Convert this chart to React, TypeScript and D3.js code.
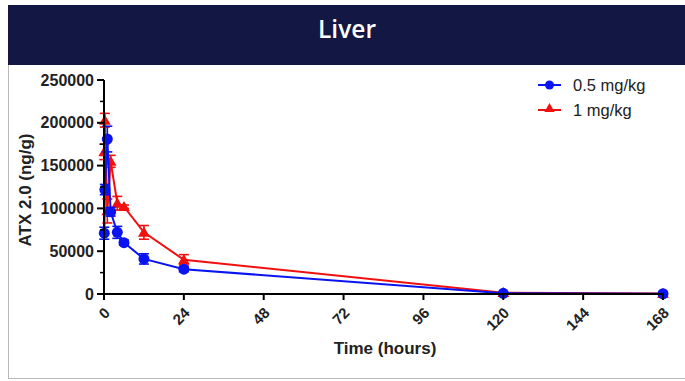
import React from "react";
import * as d3 from "d3";

const times = [0.083, 0.25, 1, 2, 4, 6, 12, 24, 120, 168];
const lowDose = [71000, 122000, 181000, 96000, 72000, 60000, 41000, 29000, 800, 300];
const lowDoseErr = [7000, 6000, 15000, 5000, 7000, 3000, 6000, 3000, 300, 100];
const highDose = [166000, 203000, 97000, 155000, 106000, 102000, 72000, 40000, 1500, 500];
const highDoseErr = [9000, 8000, 14000, 7000, 8000, 2000, 8000, 6000, 300, 100];
const xTicks = [0, 24, 48, 72, 96, 120, 144, 168];
const yTicks = [0, 50000, 100000, 150000, 200000, 250000];
const yMinor = [25000, 75000, 125000, 175000, 225000];
const seriesNames = ["0.5 mg/kg", "1 mg/kg"];

const W = 685;
const H = 381;

export default function App() {
  const x = d3.scaleLinear().domain([0, 168]).range([104, 663]);
  const y = d3.scaleLinear().domain([0, 250000]).range([294, 80]);
  const line = d3
    .line<[number, number]>()
    .x((d) => x(d[0]))
    .y((d) => y(d[1]));
  const font = "Arial, 'Liberation Sans', sans-serif";
  const blue = "#0a14f0";
  const red = "#f01010";
  const tri = d3.symbol().type(d3.symbolTriangle).size(60)() as string;

  const series = [
    { name: seriesNames[1], vals: highDose, err: highDoseErr, color: red, shape: "tri" },
    { name: seriesNames[0], vals: lowDose, err: lowDoseErr, color: blue, shape: "circle" },
  ];

  return (
    <div style={{ position: "fixed", left: 0, top: 0, width: W, height: H, background: "#fff" }}>
      <svg width={W} height={H} style={{ display: "block" }}>
        <rect x={8.5} y={5.5} width={W} height={373} fill="#fff" stroke="#b8b8b8" strokeWidth={1} />
        <rect x={8} y={5} width={W} height={60} fill="#121843" />
        <text
          x={347}
          y={38}
          textAnchor="middle"
          fill="#fff"
          fontFamily="'Open Sans', sans-serif"
          fontWeight={600}
          fontSize={24.5}
        >
          Liver
        </text>

        {series.map((s) => {
          const pts: [number, number][] = times.map((t, i) => [t, s.vals[i]]);
          return (
            <g key={s.name}>
              <path d={line(pts) as string} fill="none" stroke={s.color} strokeWidth={2} />
              {pts.map((p, i) => (
                <g key={i} stroke={s.color} strokeWidth={1.6}>
                  <line x1={x(p[0])} x2={x(p[0])} y1={y(p[1] - s.err[i])} y2={y(p[1] + s.err[i])} />
                  <line x1={x(p[0]) - 5} x2={x(p[0]) + 5} y1={y(p[1] + s.err[i])} y2={y(p[1] + s.err[i])} />
                  <line x1={x(p[0]) - 5} x2={x(p[0]) + 5} y1={y(p[1] - s.err[i])} y2={y(p[1] - s.err[i])} />
                </g>
              ))}
              {pts.map((p, i) =>
                s.shape === "circle" ? (
                  <circle key={"m" + i} cx={x(p[0])} cy={y(p[1])} r={5.5} fill={s.color} />
                ) : (
                  <path
                    key={"m" + i}
                    d={tri}
                    transform={`translate(${x(p[0])},${y(p[1]) + 1})`}
                    fill={s.color}
                  />
                )
              )}
            </g>
          );
        })}

        {/* Y axis */}
        <g fontFamily={font} fontWeight="bold" fontSize={16} fill="#222">
          <line x1={104} x2={104} y1={y(250000)} y2={y(0) + 1} stroke="#000" strokeWidth={2} />
          {yTicks.map((t) => (
            <g key={t}>
              <line x1={97} x2={104} y1={y(t)} y2={y(t)} stroke="#000" strokeWidth={2} />
              <text x={94} y={y(t) + 5.5} textAnchor="end">
                {t}
              </text>
            </g>
          ))}
          {yMinor.map((t) => (
            <line key={t} x1={100} x2={104} y1={y(t)} y2={y(t)} stroke="#000" strokeWidth={1.5} />
          ))}
          <text
            transform={`translate(31,${190}) rotate(-90)`}
            textAnchor="middle"
            fontSize={17}
          >
            ATX 2.0 (ng/g)
          </text>
        </g>

        {/* X axis */}
        <g fontFamily={font} fontWeight="bold" fontSize={15} fill="#222">
          <line x1={103} x2={x(168) + 1} y1={294} y2={294} stroke="#000" strokeWidth={2} />
          {xTicks.map((t) => (
            <g key={t}>
              <line x1={x(t)} x2={x(t)} y1={294} y2={300} stroke="#000" strokeWidth={2} />
              <text
                transform={`translate(${x(t) + 3},${310}) rotate(-45)`}
                textAnchor="end"
                dominantBaseline="central"
              >
                {t}
              </text>
            </g>
          ))}
          <text x={385} y={354} textAnchor="middle" fontSize={17}>
            Time (hours)
          </text>
        </g>

        {/* Legend */}
        <g fontFamily={font} fontSize={16.5} fill="#222">
          <line x1={538} x2={561} y1={85} y2={85} stroke={blue} strokeWidth={2} />
          <circle cx={549.5} cy={85} r={4.5} fill={blue} />
          <text x={573} y={91}>
            {seriesNames[0]}
          </text>
          <line x1={538} x2={561} y1={110} y2={110} stroke={red} strokeWidth={2} />
          <path d={d3.symbol().type(d3.symbolTriangle).size(45)() as string} transform="translate(549.5,109)" fill={red} />
          <text x={573} y={116}>
            {seriesNames[1]}
          </text>
        </g>
      </svg>
    </div>
  );
}
